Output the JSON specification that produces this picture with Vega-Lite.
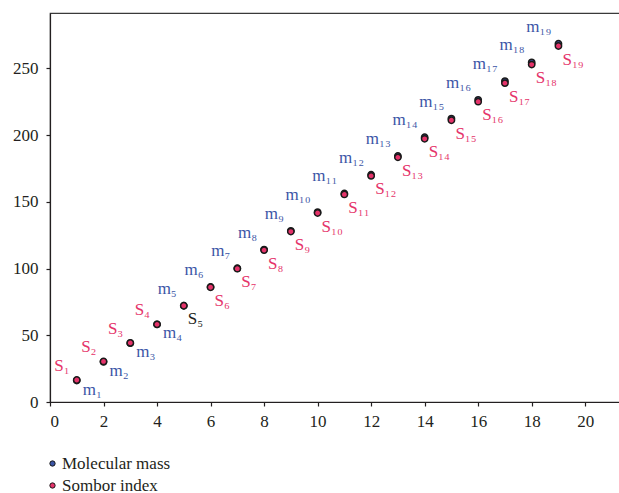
{
  "$schema": "https://vega.github.io/schema/vega-lite/v6.json",
  "autosize": {"type": "none"},
  "padding": {"left": 50, "top": 13, "right": 0, "bottom": 91},
  "width": 570,
  "height": 389,
  "background": "white",
  "config": {
    "view": {"stroke": "#3a3a3a", "strokeWidth": 1.2},
    "font": "Liberation Serif",
    "axis": {
      "grid": false,
      "domainColor": "#231f20",
      "domainWidth": 1.2,
      "tickColor": "#231f20",
      "tickWidth": 1.2,
      "tickSize": 4,
      "labelFont": "Liberation Serif",
      "labelFontSize": 17,
      "labelColor": "#231f20",
      "title": null
    }
  },
  "data": {
    "values": [
      {"n": 1, "series": "Molecular mass", "value": 16.04, "label": "m₁"},
      {"n": 2, "series": "Molecular mass", "value": 30.07, "label": "m₂"},
      {"n": 3, "series": "Molecular mass", "value": 44.10, "label": "m₃"},
      {"n": 4, "series": "Molecular mass", "value": 58.12, "label": "m₄"},
      {"n": 5, "series": "Molecular mass", "value": 72.15, "label": "m₅"},
      {"n": 6, "series": "Molecular mass", "value": 86.18, "label": "m₆"},
      {"n": 7, "series": "Molecular mass", "value": 100.20, "label": "m₇"},
      {"n": 8, "series": "Molecular mass", "value": 114.23, "label": "m₈"},
      {"n": 9, "series": "Molecular mass", "value": 128.26, "label": "m₉"},
      {"n": 10, "series": "Molecular mass", "value": 142.28, "label": "m₁₀"},
      {"n": 11, "series": "Molecular mass", "value": 156.31, "label": "m₁₁"},
      {"n": 12, "series": "Molecular mass", "value": 170.33, "label": "m₁₂"},
      {"n": 13, "series": "Molecular mass", "value": 184.36, "label": "m₁₃"},
      {"n": 14, "series": "Molecular mass", "value": 198.39, "label": "m₁₄"},
      {"n": 15, "series": "Molecular mass", "value": 212.41, "label": "m₁₅"},
      {"n": 16, "series": "Molecular mass", "value": 226.44, "label": "m₁₆"},
      {"n": 17, "series": "Molecular mass", "value": 240.47, "label": "m₁₇"},
      {"n": 18, "series": "Molecular mass", "value": 254.49, "label": "m₁₈"},
      {"n": 19, "series": "Molecular mass", "value": 268.52, "label": "m₁₉"},
      {"n": 1, "series": "Sombor index", "value": 16.49, "label": "S₁"},
      {"n": 2, "series": "Sombor index", "value": 30.40, "label": "S₂"},
      {"n": 3, "series": "Sombor index", "value": 44.30, "label": "S₃"},
      {"n": 4, "series": "Sombor index", "value": 58.20, "label": "S₄"},
      {"n": 5, "series": "Sombor index", "value": 72.10, "label": "S₅"},
      {"n": 6, "series": "Sombor index", "value": 86.01, "label": "S₆"},
      {"n": 7, "series": "Sombor index", "value": 99.91, "label": "S₇"},
      {"n": 8, "series": "Sombor index", "value": 113.81, "label": "S₈"},
      {"n": 9, "series": "Sombor index", "value": 127.72, "label": "S₉"},
      {"n": 10, "series": "Sombor index", "value": 141.62, "label": "S₁₀"},
      {"n": 11, "series": "Sombor index", "value": 155.52, "label": "S₁₁"},
      {"n": 12, "series": "Sombor index", "value": 169.43, "label": "S₁₂"},
      {"n": 13, "series": "Sombor index", "value": 183.33, "label": "S₁₃"},
      {"n": 14, "series": "Sombor index", "value": 197.23, "label": "S₁₄"},
      {"n": 15, "series": "Sombor index", "value": 211.14, "label": "S₁₅"},
      {"n": 16, "series": "Sombor index", "value": 225.04, "label": "S₁₆"},
      {"n": 17, "series": "Sombor index", "value": 238.94, "label": "S₁₇"},
      {"n": 18, "series": "Sombor index", "value": 252.85, "label": "S₁₈"},
      {"n": 19, "series": "Sombor index", "value": 266.75, "label": "S₁₉"}
    ]
  },
  "encoding": {
    "x": {"field": "n", "type": "quantitative", "scale": {"domain": [0, 21.3], "nice": false, "zero": true},
          "axis": {"values": [0, 2, 4, 6, 8, 10, 12, 14, 16, 18, 20], "labelPadding": 7}},
    "y": {"field": "value", "type": "quantitative", "scale": {"domain": [0, 291.5], "nice": false},
          "axis": {"values": [0, 50, 100, 150, 200, 250], "labelPadding": 8}}
  },
  "layer": [
    {
      "mark": {"type": "point", "filled": true, "size": 40, "stroke": "#1a1a1a", "strokeWidth": 1.5, "opacity": 1},
      "encoding": {
        "color": {"field": "series", "type": "nominal",
                  "scale": {"domain": ["Molecular mass", "Sombor index"], "range": ["#3b55a6", "#e5336a"]},
                  "legend": {
                    "title": null, "orient": "none", "legendX": -6, "legendY": 442,
                    "padding": 0, "rowPadding": 4, "symbolType": "circle", "symbolSize": 28,
                    "symbolStrokeColor": "#1a1a1a", "symbolStrokeWidth": 1,
                    "labelFont": "Liberation Serif", "labelFontSize": 17, "labelColor": "#231f20",
                    "labelOffset": 1
                  }},
        "order": {"field": "series", "type": "nominal"}
      }
    },
    {
      "transform": [{"filter": "datum.series == 'Molecular mass' && datum.n >= 5"}],
      "mark": {"type": "text", "align": "right", "baseline": "alphabetic", "dx": -7, "dy": -12, "font": "Liberation Serif", "fontSize": 17},
      "encoding": {
        "text": {"field": "label"},
        "color": {"field": "series", "type": "nominal", "legend": null}
      }
    },
    {
      "transform": [{"filter": "datum.series == 'Sombor index' && datum.n <= 4"}],
      "mark": {"type": "text", "align": "right", "baseline": "alphabetic", "dx": -7, "dy": -9, "font": "Liberation Serif", "fontSize": 17},
      "encoding": {
        "text": {"field": "label"},
        "color": {"field": "series", "type": "nominal", "legend": null}
      }
    },
    {
      "transform": [{"filter": "datum.series == 'Molecular mass' && datum.n <= 4"}],
      "mark": {"type": "text", "align": "left", "baseline": "alphabetic", "dx": 6, "dy": 14, "font": "Liberation Serif", "fontSize": 17},
      "encoding": {
        "text": {"field": "label"},
        "color": {"field": "series", "type": "nominal", "legend": null}
      }
    },
    {
      "transform": [{"filter": "datum.series == 'Sombor index' && datum.n >= 5"}],
      "mark": {"type": "text", "align": "left", "baseline": "alphabetic", "dx": 4, "dy": 18.5, "font": "Liberation Serif", "fontSize": 17},
      "encoding": {
        "text": {"field": "label"},
        "color": {
          "condition": {"test": "datum.n == 5", "value": "#231f20"},
          "field": "series", "type": "nominal", "legend": null
        }
      }
    }
  ]
}
